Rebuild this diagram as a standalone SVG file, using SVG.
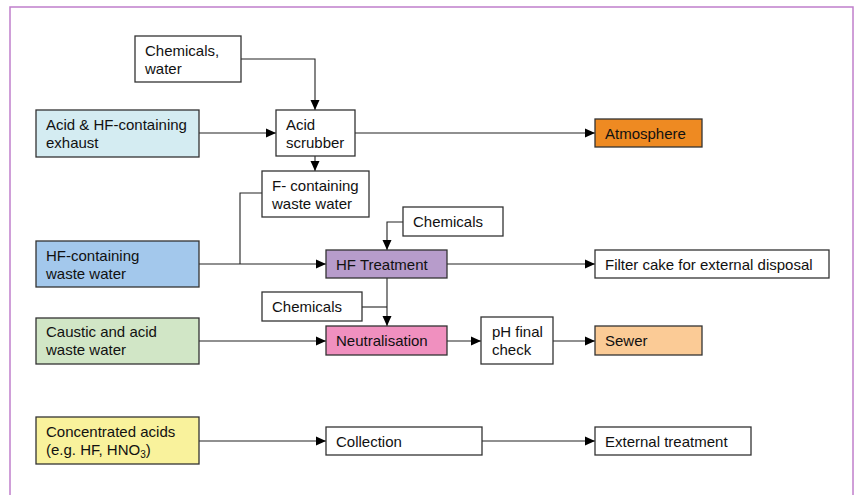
<svg xmlns="http://www.w3.org/2000/svg" width="859" height="495" viewBox="0 0 859 495">
<style>
.box{stroke:#333;stroke-width:1.3}
.t{font-family:"Liberation Sans",Arial,sans-serif;font-size:15px;fill:#111}
.c{fill:none;stroke:#222;stroke-width:1.1}
</style>
<defs>
<marker id="ah" markerUnits="userSpaceOnUse" markerWidth="11" markerHeight="10" refX="10" refY="5" orient="auto">
<path d="M0,0.5 L10,5 L0,9.5 z" fill="#000"/>
</marker>
</defs>
<rect x="0" y="0" width="859" height="495" fill="#fff"/>
<rect x="10" y="7" width="843" height="500" fill="none" stroke="#c07fcb" stroke-width="1.5"/>

<g id="connectors">
<path class="c" d="M241,59 H315 V110" marker-end="url(#ah)"/>
<path class="c" d="M199,133 H276" marker-end="url(#ah)"/>
<path class="c" d="M355,133 H595" marker-end="url(#ah)"/>
<path class="c" d="M315,156 V171" marker-end="url(#ah)"/>
<path class="c" d="M262,193 H240 V264"/>
<path class="c" d="M199,264 H326" marker-end="url(#ah)"/>
<path class="c" d="M403,222 H387 V250" marker-end="url(#ah)"/>
<path class="c" d="M447,264 H595" marker-end="url(#ah)"/>
<path class="c" d="M387,278 V326" marker-end="url(#ah)"/>
<path class="c" d="M362,307 H387"/>
<path class="c" d="M199,341 H326" marker-end="url(#ah)"/>
<path class="c" d="M447,341 H481" marker-end="url(#ah)"/>
<path class="c" d="M553,341 H595" marker-end="url(#ah)"/>
<path class="c" d="M199,441 H326" marker-end="url(#ah)"/>
<path class="c" d="M482,441 H595" marker-end="url(#ah)"/>
</g>

<g id="chem-water"><rect class="box" x="135" y="36" width="106" height="46" fill="#fff"/><text class="t" x="145" y="56">Chemicals,</text><text class="t" x="145" y="74">water</text></g>
<g id="exhaust"><rect class="box" x="36" y="110" width="163" height="47" fill="#d4ecf2"/><text class="t" x="46" y="130">Acid &amp; HF-containing</text><text class="t" x="46" y="148">exhaust</text></g>
<g id="scrubber"><rect class="box" x="276" y="110" width="79" height="46" fill="#fff"/><text class="t" x="286" y="130">Acid</text><text class="t" x="286" y="148">scrubber</text></g>
<g id="atmosphere"><rect class="box" x="595" y="119" width="107" height="28" fill="#ee8a22"/><text class="t" x="605" y="139">Atmosphere</text></g>
<g id="f-waste"><rect class="box" x="262" y="171" width="107" height="46" fill="#fff"/><text class="t" x="272" y="191">F- containing</text><text class="t" x="272" y="209">waste water</text></g>
<g id="chem1"><rect class="box" x="403" y="207" width="100" height="29" fill="#fff"/><text class="t" x="413" y="227">Chemicals</text></g>
<g id="hf-waste"><rect class="box" x="36" y="241" width="163" height="46" fill="#a3c8ec"/><text class="t" x="46" y="261">HF-containing</text><text class="t" x="46" y="279">waste water</text></g>
<g id="hf-treatment"><rect class="box" x="326" y="250" width="121" height="28" fill="#b79ccb"/><text class="t" x="336" y="270">HF Treatment</text></g>
<g id="filter-cake"><rect class="box" x="595" y="250" width="234" height="28" fill="#fff"/><text class="t" x="605" y="270">Filter cake for external disposal</text></g>
<g id="chem2"><rect class="box" x="262" y="292" width="100" height="29" fill="#fff"/><text class="t" x="272" y="312">Chemicals</text></g>
<g id="caustic"><rect class="box" x="36" y="318" width="163" height="46" fill="#d1e6c6"/><text class="t" x="46" y="337">Caustic and acid</text><text class="t" x="46" y="355">waste water</text></g>
<g id="neutralisation"><rect class="box" x="326" y="326" width="121" height="29" fill="#f090bf"/><text class="t" x="336" y="346">Neutralisation</text></g>
<g id="ph-check"><rect class="box" x="481" y="317" width="72" height="47" fill="#fff"/><text class="t" x="492" y="337">pH final</text><text class="t" x="492" y="355">check</text></g>
<g id="sewer"><rect class="box" x="595" y="326" width="107" height="29" fill="#fbcb96"/><text class="t" x="605" y="346">Sewer</text></g>
<g id="conc-acids"><rect class="box" x="36" y="417" width="163" height="47" fill="#f9f29c"/><text class="t" x="46" y="437">Concentrated acids</text><text class="t" x="46" y="455">(e.g. HF, HNO<tspan font-size="10" dy="3">3</tspan><tspan dy="-3">)</tspan></text></g>
<g id="collection"><rect class="box" x="326" y="427" width="156" height="28" fill="#fff"/><text class="t" x="336" y="447">Collection</text></g>
<g id="external"><rect class="box" x="595" y="427" width="156" height="28" fill="#fff"/><text class="t" x="605" y="447">External treatment</text></g>
</svg>
